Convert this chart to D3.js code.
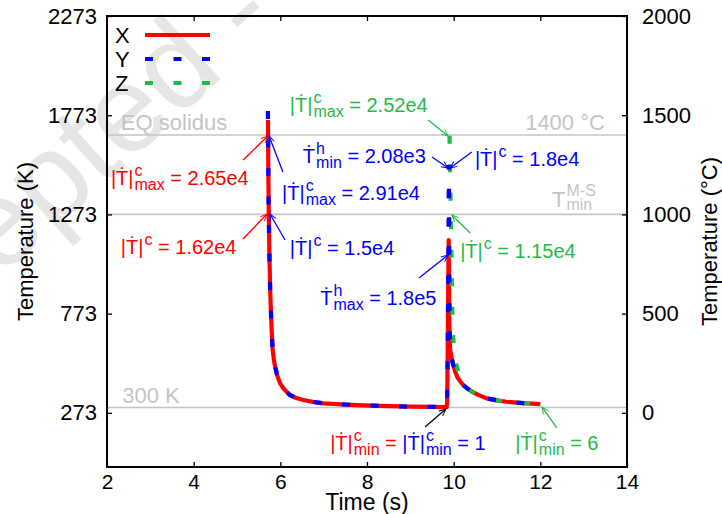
<!DOCTYPE html>
<html><head><meta charset="utf-8">
<script src="https://cdn.jsdelivr.net/npm/d3@7"></script>
<style>
body{margin:0;background:#fff;}
text{font-family:"Liberation Sans",Arial,Helvetica,sans-serif;white-space:pre;}
</style></head>
<body><svg id="c" width="722" height="514"></svg>
<script>
// ---------- data ----------
const xTicks = [2, 4, 6, 8, 10, 12, 14];
const kTicks = [273, 773, 1273, 1773, 2273];
const cTicks = [0, 500, 1000, 1500, 2000];
const seriesNames = ["X", "Y", "Z"];

const timeX = [5.715, 5.72, 5.725, 5.735, 5.75, 5.765, 5.78, 5.80, 5.82, 5.85, 5.88, 5.92, 5.95, 6.0, 6.07, 6.15, 6.22, 6.35, 6.53, 6.75, 7.0, 7.4, 7.75, 8.3, 9.0, 9.5, 9.84, 9.85, 9.86, 9.87, 9.88, 9.885, 9.89, 9.90, 9.91, 9.92, 9.95, 9.98, 10.03, 10.08, 10.15, 10.22, 10.32, 10.42, 10.58, 10.76, 11.0, 11.22, 11.6, 12.0];
const tempX = [1749, 1600, 1446, 1250, 1050, 900, 800, 690, 600, 540, 505, 470, 447, 420, 397, 378, 363, 349, 338, 328, 321, 316, 312, 308, 304, 303, 302, 330, 520, 800, 1050, 1144, 1000, 760, 640, 590, 555, 523, 485, 455, 432, 413, 395, 380, 362, 346, 336, 329, 322, 317];

const timeY = [5.713, 5.715, 5.72, 5.725, 5.735, 5.75, 5.765, 5.78, 5.80, 5.82, 5.85, 5.88, 5.92, 5.95, 6.0, 6.07, 6.15, 6.22, 6.35, 6.53, 6.75, 7.0, 7.4, 7.75, 8.3, 9.0, 9.5, 9.84, 9.85, 9.86, 9.87, 9.88, 9.885, 9.89, 9.895, 9.90, 9.905, 9.91, 9.92, 9.95, 9.98, 10.03, 10.08, 10.15, 10.22, 10.32, 10.42, 10.58, 10.76, 11.0, 11.22, 11.6, 12.0];
const tempY = [1794, 1749, 1600, 1446, 1250, 1050, 900, 800, 690, 600, 540, 505, 470, 447, 420, 397, 378, 363, 349, 338, 328, 321, 316, 312, 308, 304, 303, 302, 330, 520, 800, 1100, 1350, 1522, 1300, 1000, 800, 680, 590, 555, 523, 485, 455, 432, 413, 395, 380, 362, 346, 336, 329, 322, 317];

const timeZ = [9.90, 9.92, 9.935, 9.96, 9.975, 10.02, 10.08, 10.15, 10.22, 10.3, 10.42, 10.58, 10.76, 11.0, 11.22, 11.6, 12.0];
const tempZ = [1740, 1450, 1273, 900, 700, 560, 500, 450, 420, 400, 380, 362, 346, 336, 329, 322, 317];

// reference lines (K)
const refLinesK = [1673, 1273, 300];

// ---------- setup ----------
const svg = d3.select("#c");
const W = 722, H = 514;
const m = {l:107, r:95, t:16, b:47};
const x = d3.scaleLinear().domain([2, 14]).range([m.l, W - m.r]);
const yK = d3.scaleLinear().domain([0, 2273]).range([H - m.b, m.t]);
const yC = d3.scaleLinear().domain([-273, 2000]).range([H - m.b, m.t]);

const RED = "#ff0000", BLUE = "#0000ff", GREEN = "#22bb44", GRAY = "#c4c4c4";

// watermark
svg.append("text")
  .attr("transform", "translate(282,24) rotate(-42)")
  .attr("text-anchor", "end")
  .style("font-size", "122px")
  .attr("fill", "#e6e6e6")
  .text("Accepted -");

// reference lines
svg.append("g").selectAll("line").data(refLinesK).join("line")
  .attr("x1", x(2)).attr("x2", x(14))
  .attr("y1", d => yK(d)).attr("y2", d => yK(d))
  .attr("stroke", GRAY).attr("stroke-width", 1.6);

// axes
function styleAxis(g, fs){
  g.select(".domain").remove();
  g.selectAll(".tick line").attr("stroke", "#000").attr("stroke-width", 1.3);
  g.selectAll("text").style("font-size", fs).attr("fill", "#000");
}
svg.append("g").attr("transform", `translate(0,${H - m.b})`)
  .call(d3.axisBottom(x).tickValues(xTicks).tickSize(-5).tickPadding(7).tickFormat(d3.format("d")))
  .call(g => styleAxis(g, "21px"));
svg.append("g").attr("transform", `translate(0,${m.t})`)
  .call(d3.axisTop(x).tickValues(xTicks.slice(1, -1)).tickSize(-5).tickFormat(""))
  .call(g => styleAxis(g, "22px"));
svg.append("g").attr("transform", `translate(${m.l},0)`)
  .call(d3.axisLeft(yK).tickValues(kTicks).tickSize(-5).tickPadding(10).tickFormat(d3.format("d")))
  .call(g => styleAxis(g, "22px"));
svg.append("g").attr("transform", `translate(${W - m.r},0)`)
  .call(d3.axisRight(yC).tickValues(cTicks).tickSize(-5).tickPadding(15).tickFormat(d3.format("d")))
  .call(g => styleAxis(g, "22px"));

// frame
svg.append("rect").attr("x", m.l).attr("y", m.t)
  .attr("width", W - m.r - m.l).attr("height", H - m.b - m.t)
  .attr("fill", "none").attr("stroke", "#000").attr("stroke-width", 2);

// axis titles
svg.append("text").attr("x", (m.l + W - m.r) / 2).attr("y", 510)
  .attr("text-anchor", "middle").style("font-size", "23px").text("Time (s)");
svg.append("text").attr("transform", `translate(33,${(m.t + H - m.b)/2}) rotate(-90)`)
  .attr("text-anchor", "middle").style("font-size", "22px").text("Temperature (K)");
svg.append("text").attr("transform", `translate(717,${(m.t + H - m.b)/2}) rotate(-90)`)
  .attr("text-anchor", "middle").style("font-size", "22px").text("Temperature (°C)");

// gray labels
function grayText(t, k, txt, anchor){
  return svg.append("text").attr("x", x(t)).attr("y", yK(k)).attr("fill", GRAY)
    .attr("text-anchor", anchor || "start").style("font-size", "22px").text(txt);
}
grayText(2.32, 1698, "EQ solidus");
grayText(13.49, 1698, "1400 °C", "end");
grayText(2.35, 323, "300 K");
{
  const t = grayText(12.27, 1310, "T");
  const w = t.node().getComputedTextLength();
  svg.append("text").attr("x", x(12.27) + w + 1).attr("y", yK(1310) - 11).attr("fill", GRAY).style("font-size", "16px").text("M-S");
  svg.append("text").attr("x", x(12.27) + w + 1).attr("y", yK(1310) + 3).attr("fill", GRAY).style("font-size", "16px").text("min");
}

// curves
const line = d3.line().x(d => x(d[0])).y(d => yK(d[1]));
svg.append("clipPath").attr("id", "pc").append("rect")
  .attr("x", m.l).attr("y", m.t).attr("width", W - m.r - m.l).attr("height", H - m.b - m.t);
const plot = svg.append("g").attr("clip-path", "url(#pc)");
plot.append("path").datum(d3.zip(timeX, tempX)).attr("d", line)
  .attr("fill", "none").attr("stroke", RED).attr("stroke-width", 4.2).attr("stroke-linejoin", "round");
plot.append("path").datum(d3.zip(timeZ, tempZ)).attr("d", line)
  .attr("fill", "none").attr("stroke", GREEN).attr("stroke-width", 4.2).attr("stroke-dasharray", "8,20.5").attr("stroke-dashoffset", -14);
plot.append("path").datum(d3.zip(timeY, tempY)).attr("d", line)
  .attr("fill", "none").attr("stroke", BLUE).attr("stroke-width", 4.2).attr("stroke-dasharray", "8,20.5");

// legend
const legColors = [RED, BLUE, GREEN];
const legDash = [null, "8,20.5", "8,20.5"];
const leg = svg.append("g");
seriesNames.forEach((n, i) => {
  const yy = 35 + i * 24;
  leg.append("text").attr("x", 115).attr("y", yy + 8).style("font-size", "22px").text(n);
  leg.append("line").attr("x1", 145).attr("x2", 210).attr("y1", yy).attr("y2", yy)
    .attr("stroke", legColors[i]).attr("stroke-width", 4).attr("stroke-dasharray", legDash[i]);
});

// arrows
const defs = svg.append("defs");
[["r", RED], ["b", BLUE], ["g", GREEN], ["k", "#000"]].forEach(([id, c]) => {
  defs.append("marker").attr("id", "ah" + id).attr("viewBox", "-10 -5 12 10")
    .attr("refX", 0).attr("refY", 0).attr("markerWidth", 9).attr("markerHeight", 9)
    .attr("markerUnits", "userSpaceOnUse").attr("orient", "auto")
    .append("path").attr("d", "M-9,-4 L0,0 L-9,4").attr("fill", "none").attr("stroke", c).attr("stroke-width", 1.3);
});
function arrow(t0, k0, t1, k1, c, id){
  svg.append("line").attr("x1", x(t0)).attr("y1", yK(k0)).attr("x2", x(t1)).attr("y2", yK(k1))
    .attr("stroke", c).attr("stroke-width", 1.3).attr("marker-end", `url(#ah${id})`);
}
arrow(5.14, 1547, 5.715, 1668, RED, "r");
arrow(6.06, 1487, 5.74, 1668, BLUE, "b");
arrow(5.14, 1149, 5.69, 1275, RED, "r");
arrow(6.11, 1144, 5.76, 1275, BLUE, "b");
arrow(9.20, 953, 9.87, 1068, BLUE, "b");
arrow(9.41, 1749, 9.87, 1668, GREEN, "g");
arrow(9.50, 1562, 9.87, 1507, BLUE, "b");
arrow(10.42, 1588, 9.92, 1507, BLUE, "b");
arrow(10.38, 1179, 9.96, 1270, GREEN, "g");
arrow(9.34, 202, 9.82, 292, "#000", "k");
arrow(12.38, 197, 12.04, 302, GREEN, "g");

// rich labels
function rich(t, k, segs){
  let cx = x(t); const y = yK(k);
  segs.forEach(s => {
    const b = svg.append("text").attr("x", cx).attr("y", y).attr("fill", s.c).style("font-size", "20px").text(s.base);
    cx += b.node().getComputedTextLength();
    let w = 0;
    if (s.sup){
      const e = svg.append("text").attr("x", cx + 1).attr("y", y - 9).attr("fill", s.c).style("font-size", "16px").text(s.sup);
      w = Math.max(w, e.node().getComputedTextLength() + 1);
    }
    if (s.sub){
      const e = svg.append("text").attr("x", cx + 1).attr("y", y + 5).attr("fill", s.c).style("font-size", "16px").text(s.sub);
      w = Math.max(w, e.node().getComputedTextLength() + 1);
    }
    cx += w;
    if (s.rest){
      const r = svg.append("text").attr("x", cx).attr("y", y).attr("fill", s.c).style("font-size", "20px").text(s.rest);
      cx += r.node().getComputedTextLength();
    }
  });
}
rich(2.09, 1421, [{c:RED, base:"|Ṫ|", sup:"c", sub:"max", rest:" = 2.65e4"}]);
rich(6.04, 1346, [{c:BLUE, base:"|Ṫ|", sup:"c", sub:"max", rest:" = 2.91e4"}]);
rich(2.32, 1073, [{c:RED, base:"|Ṫ|", sup:"c", rest:" = 1.62e4"}]);
rich(6.22, 1068, [{c:BLUE, base:"|Ṫ|", sup:"c", rest:" = 1.5e4"}]);
rich(6.92, 816, [{c:BLUE, base:"Ṫ", sup:"h", sub:"max", rest:" = 1.8e5"}]);
rich(6.22, 1789, [{c:GREEN, base:"|Ṫ|", sup:"c", sub:"max", rest:" = 2.52e4"}]);
rich(6.52, 1532, [{c:BLUE, base:"Ṫ", sup:"h", sub:"min", rest:" = 2.08e3"}]);
rich(10.49, 1517, [{c:BLUE, base:"|Ṫ|", sup:"c", rest:" = 1.8e4"}]);
rich(10.15, 1053, [{c:GREEN, base:"|Ṫ|", sup:"c", rest:" = 1.15e4"}]);
rich(7.15, 86, [{c:RED, base:"|Ṫ|", sup:"c", sub:"min", rest:" = "}, {c:BLUE, base:"|Ṫ|", sup:"c", sub:"min", rest:" = 1"}]);
rich(11.42, 86, [{c:GREEN, base:"|Ṫ|", sup:"c", sub:"min", rest:" = 6"}]);
</script></body></html>
